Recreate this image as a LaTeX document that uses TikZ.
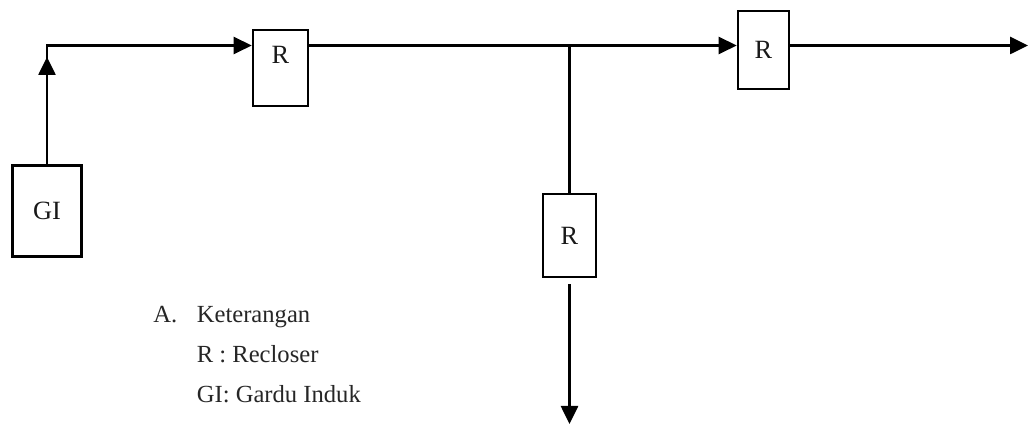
\documentclass[tikz,border=0pt]{standalone}
\usepackage{fontspec}
\setmainfont{Liberation Serif}
\usetikzlibrary{positioning, arrows.meta}

\begin{document}
\begin{tikzpicture}[
  font=\fontsize{15}{17}\selectfont,
  unit/.style={draw, rectangle, line width=1.5pt, inner sep=0pt,
    minimum width=1.08cm, minimum height=1.56cm, text=black!90},
  wire/.style={line width=1.5pt},
  arr/.style={wire, -{Triangle[length=0.36cm, width=0.34cm]}},
  legend/.style={font=\fontsize{14}{16}\selectfont, anchor=base west,
    inner sep=0pt, text=black!85},
]
  \useasboundingbox (0,0) rectangle (20.6,-8.52);

  % Substation and reclosers
  \node[unit, minimum width=1.38cm, minimum height=1.82cm] (gi) at (0.94,-4.22) {GI};
  \node[unit, minimum width=1.1cm, minimum height=1.52cm, text depth=0.52cm] (r1) at (5.61,-1.36) {R};
  \node[unit, minimum width=1.02cm] (r2) at (15.27,-1.0) {R};
  \node[unit, minimum width=1.06cm, minimum height=1.66cm] (r3) at (11.39,-4.71) {R};

  % Bus line points
  \coordinate (corner) at (gi.north |- 0,-0.91);
  \coordinate (tap) at (11.39,-0.91);
  \coordinate (feedend) at (20.56,-0.91);
  \coordinate (branchend) at (11.39,-8.48);

  % Feeder from GI to the reclosers
  \draw[arr] (gi.north) -- ([yshift=-0.23cm]corner);
  \draw[arr] ([yshift=-0.3cm]corner) |- (r1.west |- corner);
  \draw[wire] (r1.east |- corner) -- (tap);
  \draw[arr] (tap) -- (r2.west |- corner);
  \draw[arr] (r2.east |- corner) -- (feedend);

  % Branch
  \draw[wire] (tap) -- (r3.north);
  \draw[arr] ([yshift=-0.12cm]r3.south) -- (branchend);

  % Legend
  \node[legend] (legmark) at (3.06,-6.46) {A.};
  \node[legend] (legtitle) at (3.93,-6.46) {Keterangan};
  \node[legend] (legr) at (3.93,-7.26) {R : Recloser};
  \node[legend] (leggi) at (3.93,-8.06) {GI: Gardu Induk};
\end{tikzpicture}
\end{document}
